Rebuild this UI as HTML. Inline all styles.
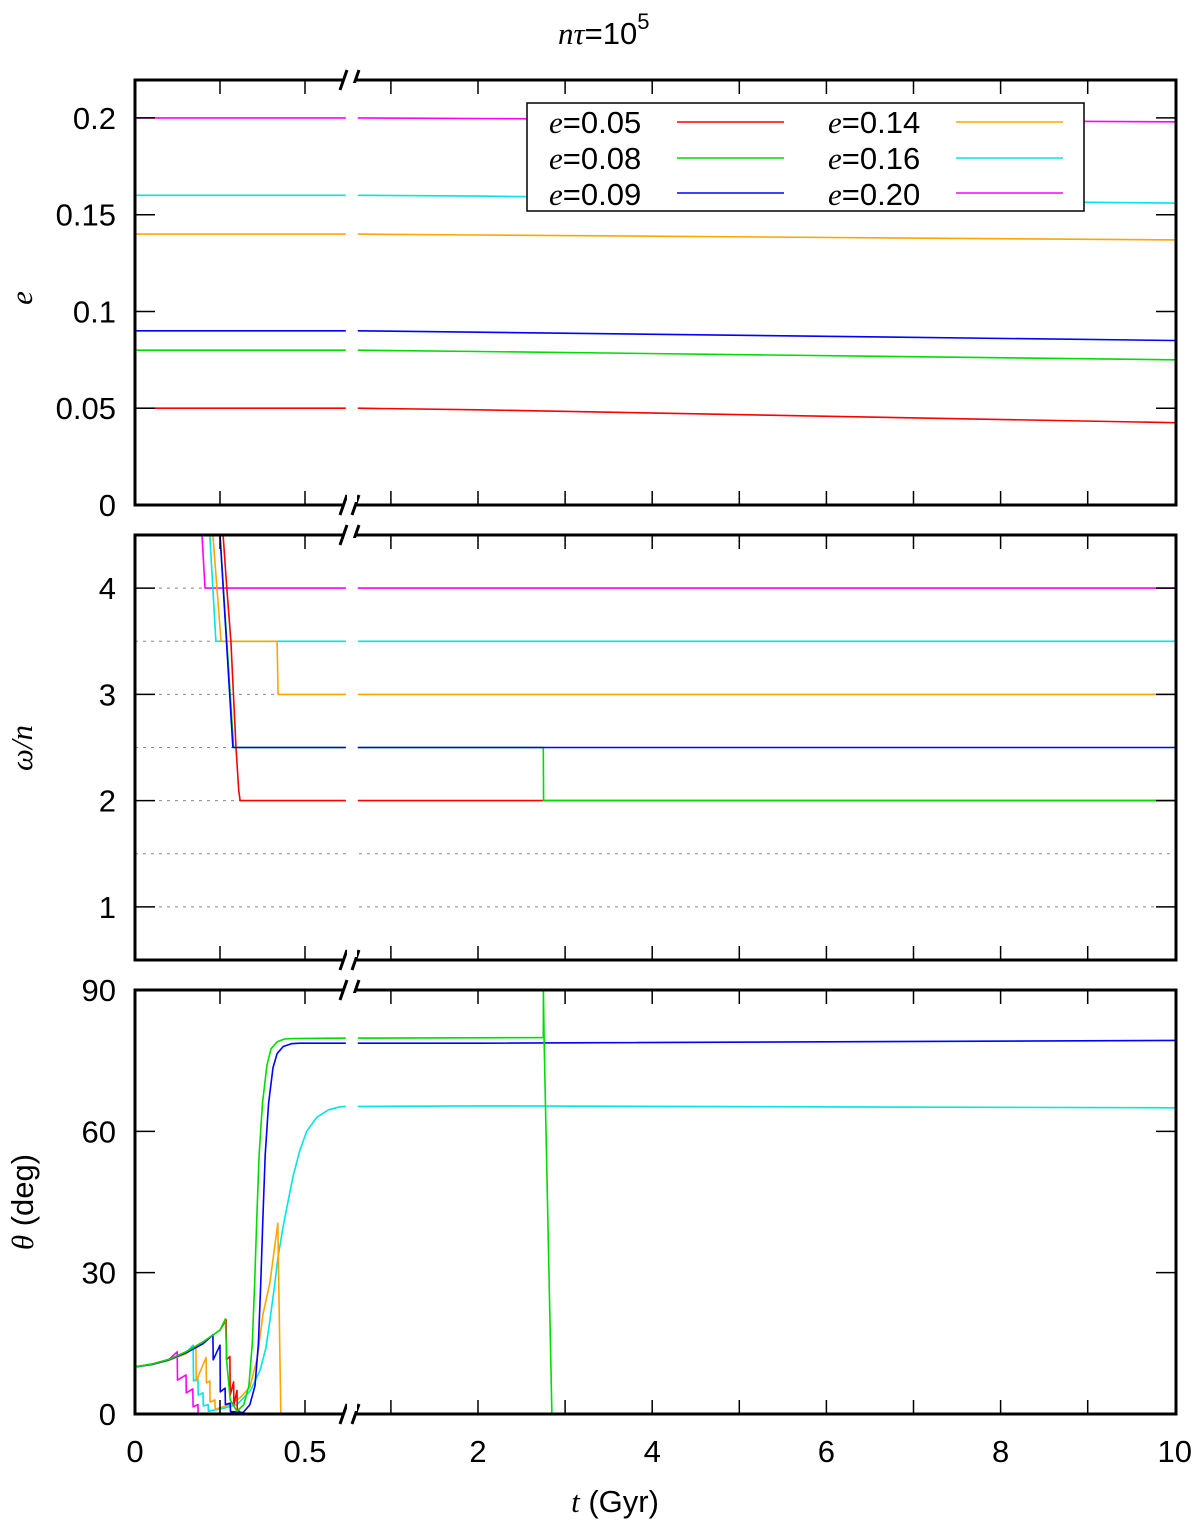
<!DOCTYPE html>
<html><head><meta charset="utf-8"><style>
html,body{margin:0;padding:0;background:#fff;}
svg{display:block;font-family:"Liberation Sans",sans-serif;}
</style></head><body>
<svg id="chart" width="1200" height="1526" viewBox="0 0 1200 1526" xmlns="http://www.w3.org/2000/svg"></svg>
<script>
// ---- data ----
const seriesNames = ["e=0.05","e=0.08","e=0.09","e=0.14","e=0.16","e=0.20"];
const seriesColors = ["#ff0000","#00dd00","#0000ff","#ffa500","#00e5e5","#ff00ff"];
// eccentricity panel: [t, e]
const eRed = [[0,0.05],[0.62,0.05],[2,0.0492],[10,0.0425]];
const eGreen = [[0,0.08],[0.62,0.08],[2,0.0793],[10,0.075]];
const eBlue = [[0,0.09],[0.62,0.09],[2,0.0893],[10,0.085]];
const eOrange = [[0,0.14],[0.62,0.14],[2,0.1395],[10,0.137]];
const eCyan = [[0,0.16],[0.62,0.16],[2,0.1596],[10,0.156]];
const eMagenta = [[0,0.2],[0.62,0.2],[2,0.1997],[10,0.198]];
// spin panel: [t, omega/n]
const wRed = [[0.259,4.5],[0.27,4.0],[0.282,3.5],[0.297,2.5],[0.305,2.1],[0.309,2.0],[10,2.0]];
const wGreen = [[0.25,4.5],[0.29,2.5],[2.75,2.5],[2.753,2.0],[10,2.0]];
const wBlue = [[0.25,4.5],[0.288,2.5],[10,2.5]];
const wOrange = [[0.229,4.5],[0.253,3.5],[0.418,3.5],[0.421,3.0],[10,3.0]];
const wCyan = [[0.22,4.5],[0.238,3.5],[10,3.5]];
const wMagenta = [[0.197,4.5],[0.206,4.0],[10,4.0]];
// obliquity panel: [t, theta deg]
const thRed = [[0,10],[0.05,10.6],[0.1,11.6],[0.15,13.2],[0.2,15.3],[0.25,17.8],[0.268,20],[0.269,11.5],[0.279,12.2],[0.28,4],[0.29,6.8],[0.291,2],[0.3,5],[0.301,1],[0.33,-1],[10,-1]];
const thGreen = [[0,10],[0.05,10.6],[0.1,11.6],[0.15,13.2],[0.2,15.3],[0.25,17.8],[0.266,20.2],[0.27,11],[0.28,3],[0.3,0.6],[0.32,2],[0.335,6],[0.345,15],[0.352,28],[0.358,41],[0.365,55],[0.375,66],[0.388,74],[0.4,77.5],[0.418,79],[0.44,79.6],[0.465,79.7],[0.62,79.8],[2.75,79.9],[2.751,90],[2.76,78.5],[2.85,-1]];
const thBlue = [[0,10],[0.05,10.5],[0.1,11.5],[0.15,13],[0.2,14.9],[0.229,16.8],[0.23,11.5],[0.25,14.6],[0.251,4.7],[0.265,5.5],[0.266,2],[0.28,2.3],[0.281,0.5],[0.318,0.3],[0.338,2],[0.353,6],[0.363,15],[0.37,28],[0.376,41],[0.383,55],[0.393,66],[0.406,73.5],[0.418,76.5],[0.436,78],[0.46,78.6],[0.485,78.7],[0.62,78.7],[2,78.7],[10,79.3]];
const thOrange = [[0,10],[0.05,10.5],[0.1,11.4],[0.15,12.8],[0.179,14.4],[0.18,7],[0.209,12],[0.21,6.6],[0.22,7],[0.221,2.5],[0.235,3],[0.236,1],[0.28,2],[0.31,3.5],[0.338,5.7],[0.36,12],[0.376,21],[0.397,28],[0.42,40.5],[0.429,-1]];
const thCyan = [[0,10],[0.05,10.5],[0.1,11.4],[0.15,13],[0.171,14.6],[0.172,7],[0.185,7.6],[0.186,4],[0.2,4.5],[0.201,1.7],[0.215,2],[0.216,0.6],[0.26,1.2],[0.3,2],[0.34,5],[0.368,9.3],[0.385,14],[0.397,20],[0.41,27],[0.42,33],[0.435,39.5],[0.447,44],[0.465,50.5],[0.485,56],[0.505,60],[0.535,63],[0.57,64.6],[0.603,65.2],[0.62,65.3],[2,65.4],[10,65.0]];
const thMagenta = [[0,10],[0.05,10.6],[0.1,11.6],[0.124,13.2],[0.125,7.2],[0.15,8.3],[0.151,4.5],[0.17,5.3],[0.171,1.5],[0.185,2],[0.186,0.2],[0.2,-1],[0.62,-1],[10,-1]];
const xTickLabels = ["0","0.5","2","4","6","8","10"];
const xTickValues = [0,0.5,2,4,6,8,10];
const xMinorTicks = [0.25,1,3,5,7,9];
const eTicks = [0,0.05,0.1,0.15,0.2];
const eTickLabels = ["0","0.05","0.1","0.15","0.2"];
const wTicks = [1,2,3,4];
const wGrid = [1,1.5,2,2.5,3,3.5,4];
const thTicks = [0,30,60,90];

// ---- geometry ----
const X0=135, X1=1176, BREAK_T=0.62, LEFT_END=346, RIGHT_START=358;
function xLeft(t){return X0+340*t;}
function xRight(t){return 478+(t-2)*87.1;}
function xs(t){return t<=BREAK_T? xLeft(t): xRight(t);}
const panels=[
 {name:"eccentricity-panel",top:80,bot:505,min:0,max:0.2196},
 {name:"spin-panel",top:535,bot:960,min:0.5,max:4.5},
 {name:"obliquity-panel",top:990,bot:1414,min:0,max:90}
];
function ys(p,v){return p.bot-(v-p.min)/(p.max-p.min)*(p.bot-p.top);}

const svg=document.getElementById('chart');
const NS="http://www.w3.org/2000/svg";
function mk(tag,attrs,parent){const el=document.createElementNS(NS,tag);for(const k in attrs)el.setAttribute(k,attrs[k]);(parent||svg).appendChild(el);return el;}

function pathFor(p,data){
  let left=[],right=[];
  for(const [t,v] of data){
    if(t<=BREAK_T) left.push([xLeft(t),ys(p,v)]);
    if(t>=BREAK_T) right.push([xRight(t),ys(p,v)]);
  }
  for(let i=0;i<data.length-1;i++){
    const a=data[i],b=data[i+1];
    if(a[0]<BREAK_T && b[0]>BREAK_T){
      const f=(BREAK_T-a[0])/(b[0]-a[0]);const v=a[1]+f*(b[1]-a[1]);
      left.push([xLeft(BREAK_T),ys(p,v)]);right.unshift([xRight(BREAK_T),ys(p,v)]);
    }
  }
  const d=[];
  if(left.length>1) d.push('M'+left.map(q=>q[0].toFixed(1)+','+q[1].toFixed(1)).join('L'));
  if(right.length>1) d.push('M'+right.map(q=>q[0].toFixed(1)+','+q[1].toFixed(1)).join('L'));
  return d.join(' ');
}

const defs=mk('defs',{});
panels.forEach((p,i)=>{const cp=mk('clipPath',{id:'c'+i},defs);mk('rect',{x:X0,y:p.top,width:X1-X0,height:p.bot-p.top},cp);});

wGrid.forEach(v=>{
  const l=mk('line',{x1:X0,x2:X1,y1:ys(panels[1],v),y2:ys(panels[1],v),stroke:'#888','stroke-width':1,'stroke-dasharray':'3,5'});
  
  
});

const eData=[eRed,eGreen,eBlue,eOrange,eCyan,eMagenta];
const wData=[wRed,wGreen,wBlue,wOrange,wCyan,wMagenta];
const thData=[thRed,thGreen,thBlue,thOrange,thCyan,thMagenta];
const order=[5,4,3,0,1,2];
[eData,wData,thData].forEach((set,pi)=>{
  const g=mk('g',{'clip-path':'url(#c'+pi+')'});
  
  
  (pi===2?[5,4,3,0,2,1]:order).forEach(si=>{
    const pa=mk('path',{d:pathFor(panels[pi],set[si]),fill:'none',stroke:seriesColors[si],'stroke-width':1.6,'stroke-linejoin':'round'},g);
    
    
  });
});

panels.forEach((p,pi)=>{
  const g=mk('g',{});
  
  
  mk('rect',{x:X0,y:p.top,width:X1-X0,height:p.bot-p.top,fill:'none',stroke:'#000','stroke-width':3},g);
  const allT=xTickValues.concat(xMinorTicks).filter(t=>t>0&&t<10);
  allT.forEach(t=>{
    const x=xs(t);
    mk('line',{x1:x,x2:x,y1:p.top,y2:p.top+14,stroke:'#000','stroke-width':1.5},g);
    mk('line',{x1:x,x2:x,y1:p.bot,y2:p.bot-14,stroke:'#000','stroke-width':1.5},g);
  });
  [p.top,p.bot].forEach(y=>{
    mk('rect',{x:344,y:y-4,width:11,height:8,fill:'#fff'},g);
    mk('line',{x1:340,x2:347,y1:y+10,y2:y-10,stroke:'#000','stroke-width':3},g);
    mk('line',{x1:352,x2:359,y1:y+10,y2:y-10,stroke:'#000','stroke-width':3},g);
  });
  mk('rect',{x:LEFT_END+1,y:p.top+3,width:RIGHT_START-LEFT_END-2,height:p.bot-p.top-6,fill:'#fff'},g);
});
function yAxis(p,ticks,labels){
  ticks.forEach((v,i)=>{
    const y=ys(p,v);
    mk('line',{x1:X0,x2:X0+20,y1:y,y2:y,stroke:'#000','stroke-width':1.5});
    mk('line',{x1:X1,x2:X1-20,y1:y,y2:y,stroke:'#000','stroke-width':1.5});
    const t=mk('text',{x:116,y:y+11,'font-size':31,'text-anchor':'end'});
    t.textContent=labels[i];
    
    
  });
}
yAxis(panels[0],eTicks,eTickLabels);
yAxis(panels[1],wTicks,wTicks.map(String));
yAxis(panels[2],thTicks,thTicks.map(String));
xTickValues.forEach((t,i)=>{
  const tx=mk('text',{x:xs(t),y:1462,'font-size':31,'text-anchor':'middle'});
  tx.textContent=xTickLabels[i];
  
  
});
</script>
<svg width="1200" height="1526" style="position:absolute;left:0;top:0">
  <text x="558" y="44" font-size="31"><tspan font-family="Liberation Serif" font-style="italic">nτ</tspan>=10<tspan font-size="22" dy="-15">5</tspan></text>
  <text transform="translate(32,298) rotate(-90)" font-size="31" font-family="Liberation Serif" font-style="italic" text-anchor="middle">e</text>
  <text transform="translate(32,748) rotate(-90)" font-size="31" text-anchor="middle"><tspan font-family="Liberation Serif" font-style="italic">ω/n</tspan></text>
  <text transform="translate(33,1202) rotate(-90)" font-size="31" text-anchor="middle"><tspan font-family="Liberation Serif" font-style="italic">θ</tspan> (deg)</text>
  <text x="615" y="1512" font-size="31" text-anchor="middle"><tspan font-family="Liberation Serif" font-style="italic">t</tspan> (Gyr)</text>
  <g>
    <rect x="527" y="103" width="557" height="108" fill="#fff" stroke="#000" stroke-width="1.5"/>
    <g font-size="31">
      <text x="549" y="133"><tspan font-family="Liberation Serif" font-style="italic">e</tspan>=0.05</text>
      <text x="549" y="169"><tspan font-family="Liberation Serif" font-style="italic">e</tspan>=0.08</text>
      <text x="549" y="205"><tspan font-family="Liberation Serif" font-style="italic">e</tspan>=0.09</text>
      <text x="828" y="133"><tspan font-family="Liberation Serif" font-style="italic">e</tspan>=0.14</text>
      <text x="828" y="169"><tspan font-family="Liberation Serif" font-style="italic">e</tspan>=0.16</text>
      <text x="828" y="205"><tspan font-family="Liberation Serif" font-style="italic">e</tspan>=0.20</text>
    </g>
    <line x1="677" x2="784" y1="122" y2="122" stroke="#ff0000" stroke-width="1.6"/>
    <line x1="677" x2="784" y1="158" y2="158" stroke="#00dd00" stroke-width="1.6"/>
    <line x1="677" x2="784" y1="193" y2="193" stroke="#0000ff" stroke-width="1.6"/>
    <line x1="956" x2="1063" y1="122" y2="122" stroke="#ffa500" stroke-width="1.6"/>
    <line x1="956" x2="1063" y1="158" y2="158" stroke="#00e5e5" stroke-width="1.6"/>
    <line x1="956" x2="1063" y1="193" y2="193" stroke="#ff00ff" stroke-width="1.6"/>
  </g>
</svg>
</body></html>
